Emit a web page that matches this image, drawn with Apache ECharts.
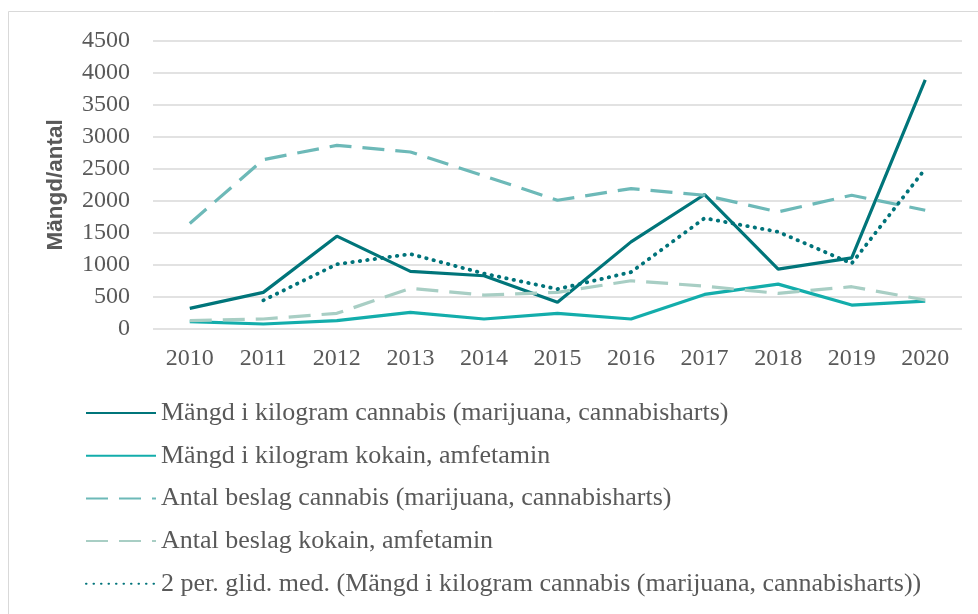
<!DOCTYPE html>
<html>
<head>
<meta charset="utf-8">
<script src="https://cdn.jsdelivr.net/npm/echarts@6/dist/echarts.min.js"></script>
<style>html,body{margin:0;padding:0;background:#fff;}#c{width:978px;height:614px;}</style>
</head>
<body>
<div id="c"></div>
<script>
const years = ['2010','2011','2012','2013','2014','2015','2016','2017','2018','2019','2020'];
const kgCannabis = [322, 572, 1449, 899, 831, 416, 1360, 2099, 935, 1111, 3890];
const kgKokain = [114, 78, 130, 260, 156, 245, 156, 540, 701, 374, 436];
const beslagCannabis = [1647, 2644, 2867, 2763, 2390, 2010, 2192, 2088, 1828, 2088, 1854];
const beslagKokain = [130, 156, 245, 634, 530, 572, 753, 670, 556, 660, 452];
const glidMed = [null, 447, 1011, 1170, 865, 623, 888, 1730, 1517, 1023, 2500];
const yTicks = [0, 500, 1000, 1500, 2000, 2500, 3000, 3500, 4000, 4500];

const names = [
  'Mängd i kilogram cannabis (marijuana, cannabisharts)',
  'Mängd i kilogram kokain, amfetamin',
  'Antal beslag cannabis (marijuana, cannabisharts)',
  'Antal beslag kokain, amfetamin',
  '2 per. glid. med. (Mängd i kilogram cannabis (marijuana, cannabisharts))'
];
const serif = '"Liberation Serif", "DejaVu Serif", serif';
function mk(name, data, color, type, width, cap) {
  return {
    name: name, type: 'line', data: data, symbol: 'none', connectNulls: false,
    lineStyle: { color: color, width: width, type: type, cap: cap || 'butt' },
    itemStyle: { color: color }
  };
}
const chart = echarts.init(document.getElementById('c'), null, { renderer: 'canvas' });
chart.setOption({
  animation: false,
  backgroundColor: '#fff',
  graphic: [{
    type: 'rect', shape: { x: 8.5, y: 11.5, width: 1100, height: 1000 },
    style: { fill: 'none', stroke: '#d9d9d9', lineWidth: 1 }, silent: true, z: -1
  }],
  grid: { left: 153, right: 16, top: 40.7, bottom: 285 },
  xAxis: {
    type: 'category', data: years, boundaryGap: true,
    axisLine: { show: false }, axisTick: { show: false },
    axisLabel: { color: '#595959', fontFamily: serif, fontSize: 24, margin: 18 }
  },
  yAxis: {
    type: 'value', min: yTicks[0], max: yTicks[yTicks.length - 1], interval: 500,
    name: 'Mängd/antal', nameLocation: 'middle', nameGap: 86,
    nameTextStyle: { color: '#595959', fontFamily: '"Liberation Sans", Arial, sans-serif', fontWeight: 'bold', fontSize: 22.5 },
    axisLine: { show: false }, axisTick: { show: false },
    splitLine: { lineStyle: { color: '#d9d9d9', width: 1.5 } },
    axisLabel: { color: '#595959', fontFamily: serif, fontSize: 24, margin: 23,
      formatter: function (v) { return String(v); } }
  },
  legend: {
    orient: 'vertical', left: 85, top: 400, padding: 0,
    itemWidth: 70, itemHeight: 20, itemGap: 16.7,
    data: names,
    itemStyle: { opacity: 0 },
    textStyle: { color: '#595959', fontFamily: serif, fontSize: 26, lineHeight: 26 }
  },
  series: [
    mk(names[0], kgCannabis, '#00757A', 'solid', 3.2),
    mk(names[1], kgKokain, '#13ADAB', 'solid', 3.2),
    mk(names[2], beslagCannabis, '#6DB9B8', [22, 11], 3.2),
    mk(names[3], beslagKokain, '#A8CEC4', [22, 11], 3.2),
    mk(names[4], glidMed, '#00737A', [0.5, 7], 3.8, 'round')
  ]
});
</script>
</body>
</html>
